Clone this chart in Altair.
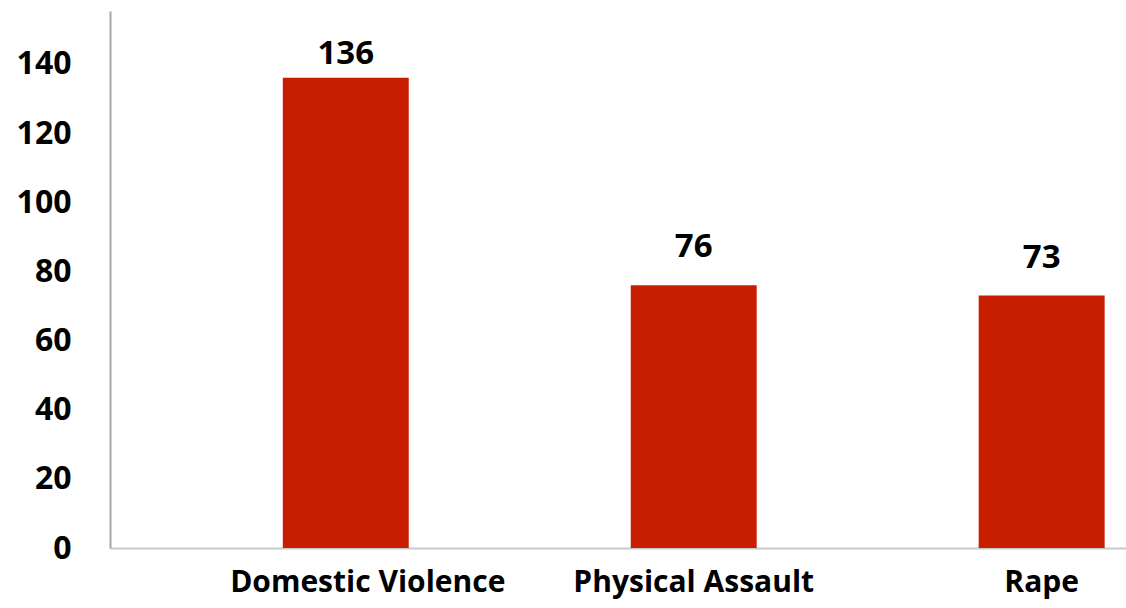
import altair as alt
import pandas as pd

categories = ["Domestic Violence", "Physical Assault", "Rape"]
values = [136, 76, 73]

df = pd.DataFrame({"category": categories, "value": values})

FONT = "Open Sans"

xscale = alt.Scale(paddingInner=0.638, paddingOuter=0.279, align=0.89)
yscale = alt.Scale(domain=[0, 155.3], nice=False)

x = alt.X(
    "category:N",
    sort=None,
    title=None,
    scale=xscale,
    axis=alt.Axis(
        labelAngle=0,
        labelFont=FONT,
        labelFontSize=30,
        labelFontWeight="bold",
        labelColor="#000000",
        labelPadding=19,
        labelLimit=0,
        ticks=False,
        grid=False,
        domainColor="#c8c8c8",
        domainWidth=2,
        labelOffset={"condition": {"test": "datum.value === 'Domestic Violence'", "value": 22}, "value": 0},
    ),
)
y = alt.Y(
    "value:Q",
    title=None,
    scale=yscale,
    axis=alt.Axis(
        values=[0, 20, 40, 60, 80, 100, 120, 140],
        labelFont=FONT,
        labelFontSize=32,
        labelFontWeight="bold",
        labelColor="#000000",
        labelPadding=39,
        ticks=False,
        grid=False,
        domainColor="#a6a6a6",
        domainWidth=2,
    ),
)

bars = alt.Chart(df).mark_bar(color="#C81E00").encode(x=x, y=y)

text_enc = dict(
    x=alt.X("category:N", sort=None),
    y=alt.Y("value:Q"),
    text="value:Q",
)
label_top = alt.Chart(df).transform_filter(
    "datum.category === 'Domestic Violence'"
).mark_text(
    font=FONT, fontSize=33, fontWeight="bold", color="#000000", baseline="bottom", dy=-7
).encode(**text_enc)
label_rest = alt.Chart(df).transform_filter(
    "datum.category !== 'Domestic Violence'"
).mark_text(
    font=FONT, fontSize=33, fontWeight="bold", color="#000000", baseline="bottom", dy=-21
).encode(**text_enc)

chart = (
    alt.layer(bars, label_top, label_rest)
    .properties(width=1016, height=537, autosize=alt.AutoSizeParams(type="none"),
                padding={"left": 110, "top": 11, "right": 0, "bottom": 60},
                background="#ffffff")
    .configure_view(strokeWidth=0, stroke="transparent")
    .configure_axis(grid=False)
)

chart.save("out.html", embed_options={"renderer": "svg", "actions": False})
